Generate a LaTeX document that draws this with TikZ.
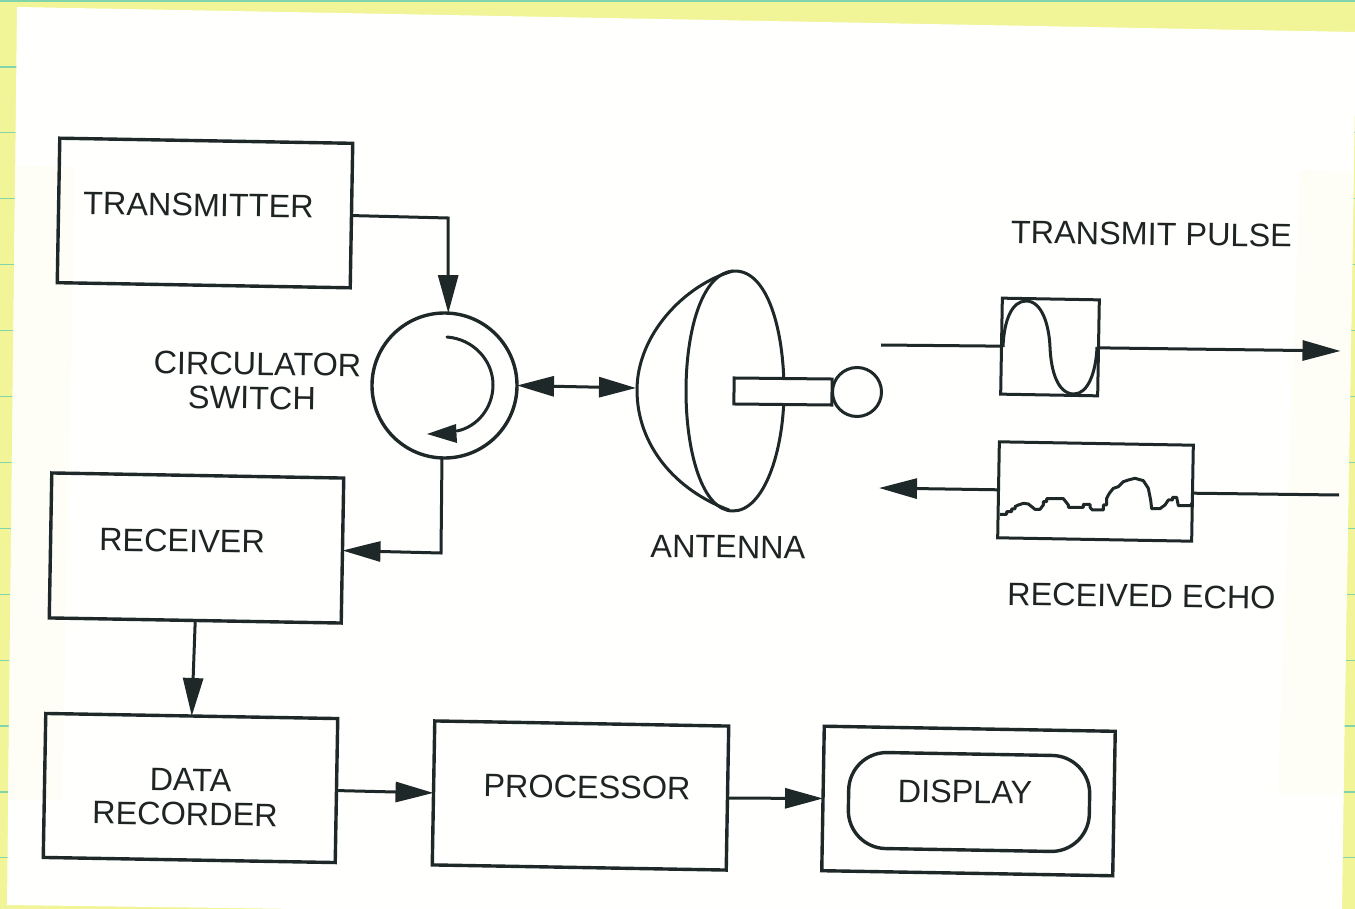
\documentclass[tikz,border=0pt]{standalone}
\usepackage{fontspec}
\setmainfont{Liberation Sans}
\usetikzlibrary{arrows.meta}
\definecolor{pad}{RGB}{241,245,152}
\definecolor{rule}{RGB}{130,212,170}
\definecolor{paper}{RGB}{255,255,253}
\definecolor{tint}{RGB}{254,254,246}
\definecolor{inkc}{RGB}{30,40,40}
\definecolor{textc}{RGB}{30,35,35}
\tikzset{
  boxn/.style={draw=inkc,line width=3.4pt,fill=none,rotate=-1,outer sep=0pt,inner sep=0pt,minimum width=#1},
  boxn/.default=292pt,
  lab/.style={font=\fontsize{32.4}{32.4}\selectfont,text=textc,rotate=-0.8,inner sep=0pt},
  conn/.style={draw=inkc,line width=3pt},
  head/.style={conn,-{Triangle[length=38pt,width=20pt,fill=inkc]}},
  headb/.style={conn,{Triangle[length=37pt,width=20pt,fill=inkc]}-{Triangle[length=37pt,width=20pt,fill=inkc]}},
  curve/.style={draw=inkc,line width=3pt,line join=round}
}
\begin{document}
\begin{tikzpicture}[x=1pt,y=-1pt]
\useasboundingbox (0,0) rectangle (1355,909);
% pad and rules
\fill[pad] (0,0) rectangle (1355,909);
\draw[rule,line width=1.6pt] (0,1) -- (1355,1);
\foreach \k in {0,...,12}{
  \draw[rule,line width=1.2pt] (0,67+65.9*\k) -- (1355,67+65.9*\k);
}
% paper
\fill[paper] (17,7) -- (1355,32) -- (1355,100) -- (1345,700) -- (1342,909) -- (300,909) -- (7,905) -- cycle;
\begin{scope}
\clip (17,7) -- (1355,32) -- (1355,100) -- (1345,700) -- (1342,909) -- (300,909) -- (7,905) -- cycle;
\fill[tint] (1300,170) -- (1356,172) -- (1345,700) -- (1344,795) -- (1278,795) -- cycle;
\fill[tint] (0,165) -- (75,167) -- (62,800) -- (0,800) -- cycle;
\end{scope}

% boxes
\node[boxn=293pt,minimum height=144.5pt] (tx) at (205,213) {};
\node[boxn=292pt,minimum height=145pt] (rx) at (196.5,548) {};
\node[boxn=292pt,minimum height=144pt] (rec) at (190.5,788) {};
\node[boxn=294pt,minimum height=144pt] (proc) at (580.5,795.5) {};
\node[boxn=291pt,minimum height=144.5pt] (disp) at (968.5,801) {};
\node[boxn=241pt,minimum height=96pt,rounded corners=38pt] (scr) at (969,802) {};
\node[boxn=97pt,minimum height=96pt,line width=3pt] (pulse) at (1050,347) {};
\node[boxn=194pt,minimum height=96pt,line width=3pt] (echo) at (1095.5,491.5) {};

% circulator
\node[circle,draw=inkc,line width=3.4pt,minimum size=145pt,inner sep=0pt,outer sep=0pt] (circ) at (444.5,385.5) {};
\draw[curve,line cap=round] (447,337) .. controls (473,339) and (493,360) .. (493,385) .. controls (493,408) and (477,427) .. (457,431);
\fill[inkc] (456,424) -- (457,443) -- (427,434) -- cycle;

% antenna
\draw[curve] (733,271) .. controls (684,285) and (637,335) .. (637,390) .. controls (637,445) and (675,490) .. (729,510);
\draw[curve] (735,271) .. controls (702,271) and (686,331) .. (686,391) .. controls (686,451) and (702,511) .. (733,511) .. controls (764,511) and (784,451) .. (784,391) .. controls (784,331) and (768,271) .. (735,271) -- cycle;
\node[draw=inkc,fill=paper,line width=3pt,rotate=-0.6,minimum width=98pt,minimum height=26pt,inner sep=0pt,outer sep=0pt] (feed) at (783,391.5) {};
\node[circle,draw=inkc,fill=paper,line width=3pt,minimum size=49pt,inner sep=0pt,outer sep=0pt] (horn) at (857,392) {};
\coordinate (dish) at (636,388);

% waveforms
\draw[curve] (1003,347) .. controls (1004,320) and (1012,301) .. (1026,301) .. controls (1042,301) and (1049,325) .. (1050,347) .. controls (1051,372) and (1058,394) .. (1074,394) .. controls (1088,394) and (1096,372) .. (1097,347);
\begin{scope}[shift={(980,280)},x=0.3333pt,y=-0.3333pt]
\draw[curve] (60,703) -- (80,703) -- (80,695) -- (95,695) -- (95,687) -- (105,687) -- (105,680) -- (115,675) -- (130,670) -- (145,672) -- (165,688) -- (180,688) -- (190,675) -- (190,665) -- (200,665) -- (200,656) -- (250,656) -- (265,675) -- (265,682) -- (310,682) -- (310,673) -- (330,673) -- (330,682) -- (337,690) -- (370,690) -- (370,675) -- (380,675) -- (380,655) -- (388,640) -- (400,625) -- (415,620) -- (430,605) -- (445,600) -- (465,595) -- (490,602) -- (505,625) -- (512,660) -- (515,686) -- (540,686) -- (555,675) -- (565,660) -- (578,660) -- (578,652) -- (590,652) -- (595,677) -- (635,677) -- (635,668);
\end{scope}

% connectors
\coordinate (e1) at (448,218);
\coordinate (e2) at (441,553);
\coordinate (pin) at (881,345);
\coordinate (pout) at (1340.5,351);
\coordinate (ein) at (1339,495);
\coordinate (eout) at (879,488);
\draw[conn,line join=miter,-{Triangle[length=38pt,width=20pt,fill=inkc]}] (tx.east) -- (e1) -- (circ.87.5);
\draw[conn,line join=miter,-{Triangle[length=38pt,width=20pt,fill=inkc]}] (circ.268) -- (e2) -- (rx.east);
\draw[headb] (circ.east) -- (dish);
\draw[head] (rx.south) -- (rec.north);
\draw[head] (rec.east) -- (proc.west);
\draw[head] (proc.east) -- (disp.west);
\draw[conn] (pin) -- (pulse.west);
\draw[head] (pulse.east) -- (pout);
\draw[conn] (ein) -- (echo.east);
\draw[head] (echo.west) -- (eout);

% labels
\node[lab] (ltx) at (198.5,205) {TRANSMITTER};
\node[lab] (lc1) at (257.5,364) {CIRCULATOR};
\node[lab] (lc2) at (252,398) {SWITCH};
\node[lab] (lrx) at (182,541) {RECEIVER};
\node[lab] (lan) at (728,547) {ANTENNA};
\node[lab] (ltp) at (1151.5,234) {TRANSMIT PULSE};
\node[lab] (lre) at (1141.5,596) {RECEIVED ECHO};
\node[lab] (ld1) at (190.5,780) {DATA};
\node[lab] (ld2) at (185,814) {RECORDER};
\node[lab] (lpr) at (587,787) {PROCESSOR};
\node[lab] (lds) at (965,792) {DISPLAY};
\end{tikzpicture}
\end{document}
